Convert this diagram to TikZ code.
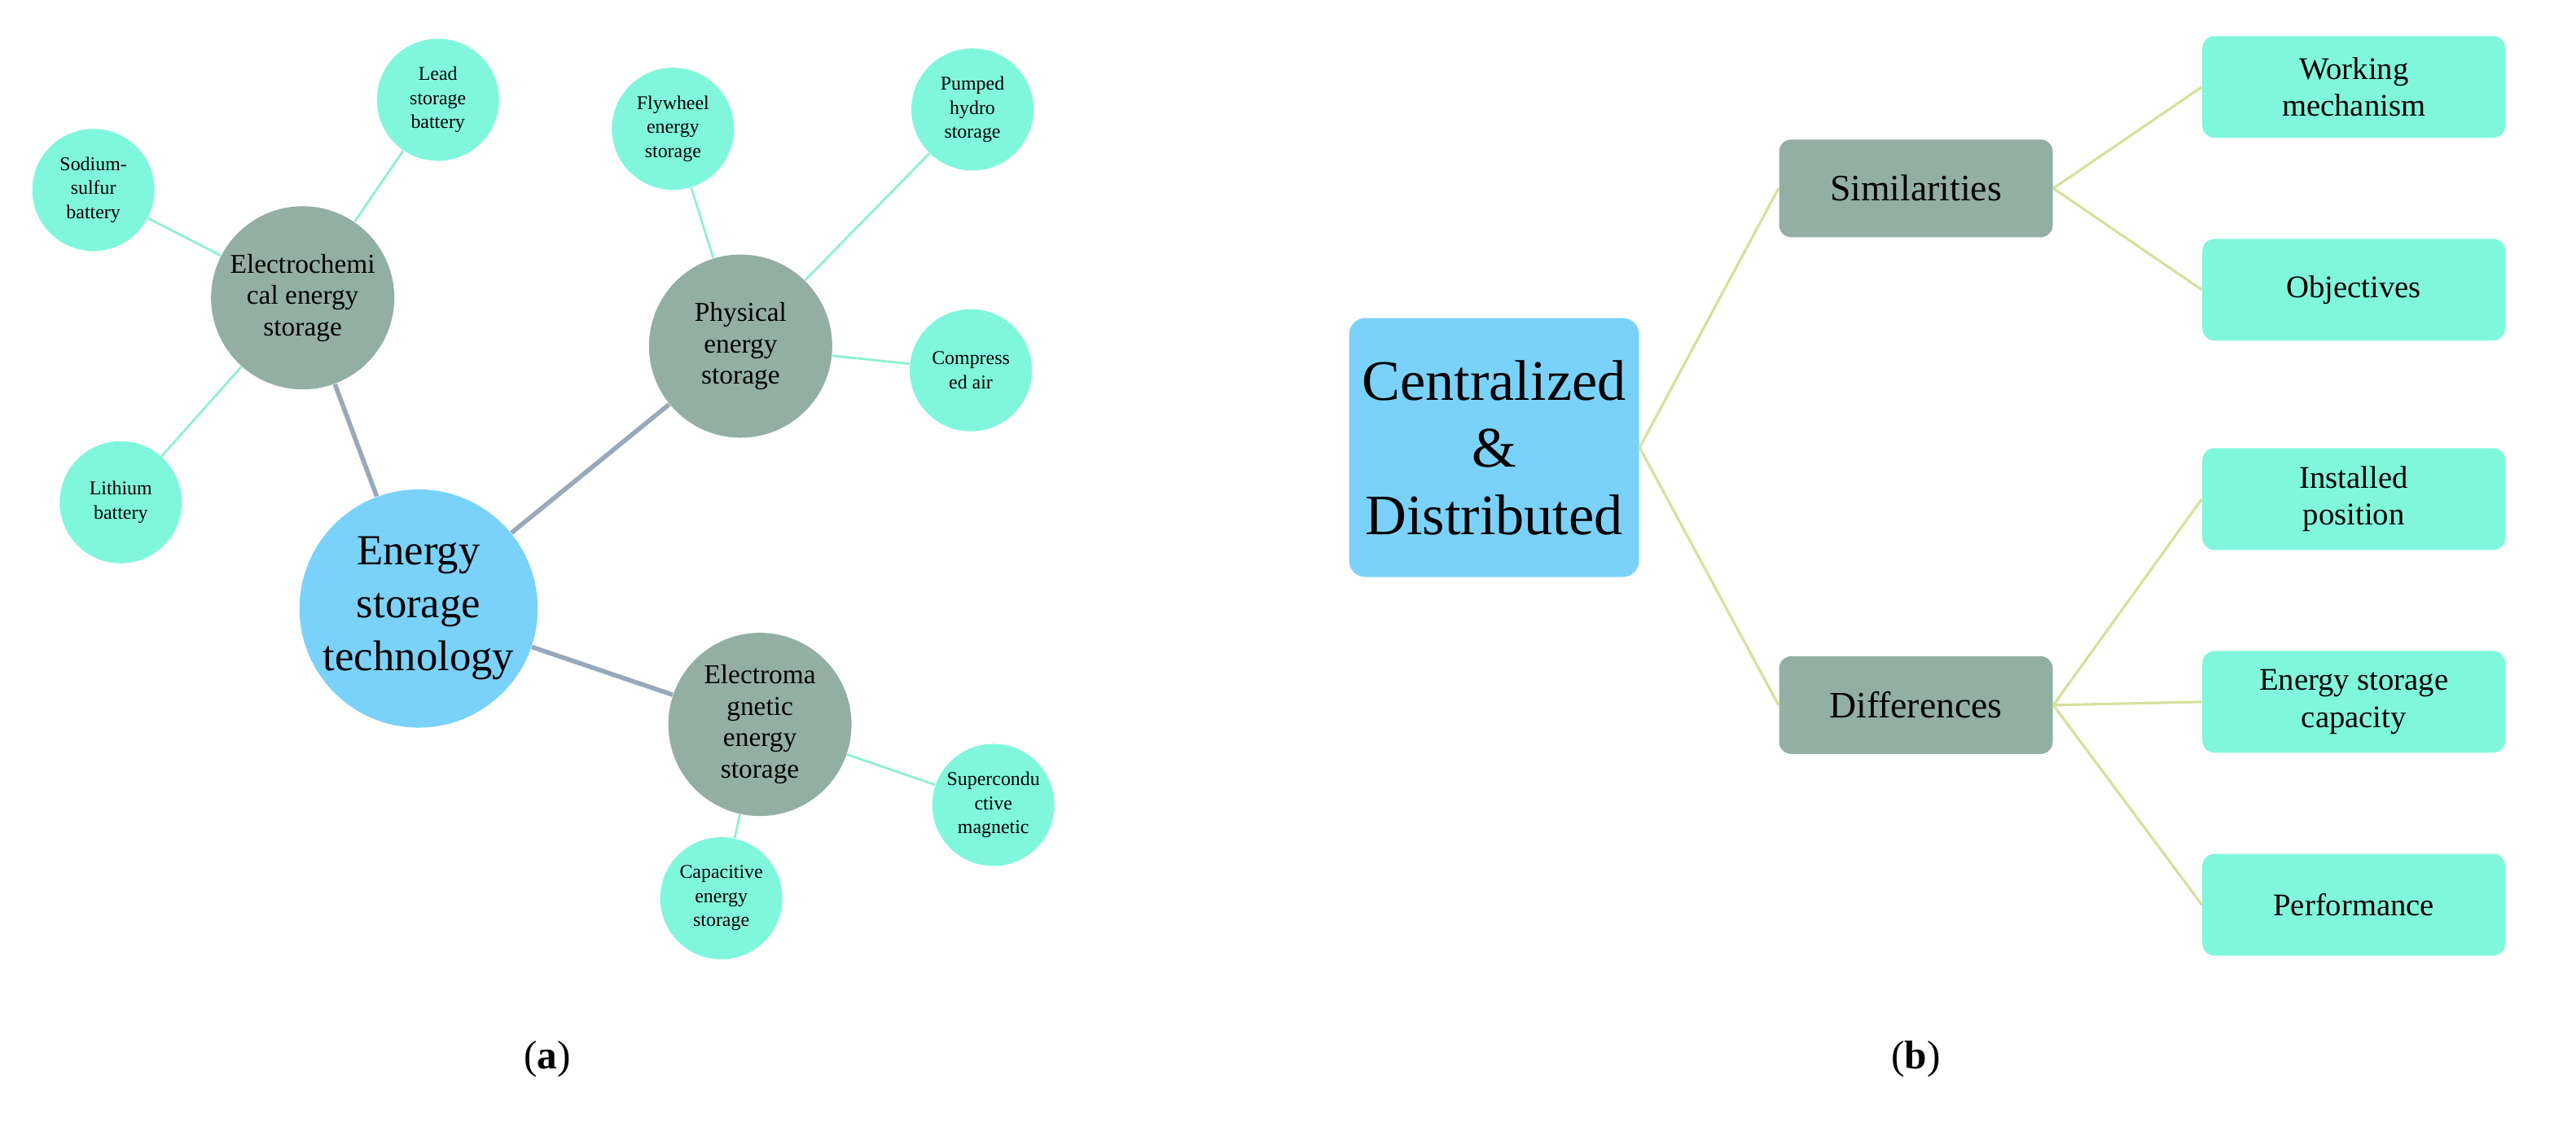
\documentclass[tikz,border=0pt]{standalone}
\usepackage{fontspec}
\setmainfont{Liberation Serif}
\usetikzlibrary{positioning}
\definecolor{rootblue}{HTML}{7AD2FB}
\definecolor{midgrey}{HTML}{93AFA4}
\definecolor{leafaqua}{HTML}{80F7DD}
\definecolor{trunkline}{HTML}{97A9BB}
\definecolor{twigline}{HTML}{8FF0D0}
\definecolor{treeline}{HTML}{D5E19A}
\tikzset{
  root/.style={circle, fill=rootblue, minimum size=28.5mm, align=center, inner sep=0pt, font=\fontsize{15}{18.5}\selectfont},
  branch/.style={circle, fill=midgrey, minimum size=22.5mm, align=center, inner sep=0pt, font=\fontsize{9.5}{11}\selectfont},
  leaf/.style={circle, fill=leafaqua, minimum size=15mm, align=center, inner sep=0pt, font=\fontsize{6.8}{8.4}\selectfont},
  trunk/.style={draw=trunkline, line width=1.6pt},
  twig/.style={draw=twigline, line width=0.8pt},
  hub/.style={rectangle, rounded corners=2mm, fill=rootblue, minimum width=35.6mm, minimum height=31.8mm, align=center, font=\fontsize{20}{23.5}\selectfont},
  group/.style={rectangle, rounded corners=1.5mm, fill=midgrey, minimum width=33.6mm, minimum height=12mm, align=center, font=\fontsize{13}{15}\selectfont},
  item/.style={rectangle, rounded corners=1.5mm, fill=leafaqua, minimum width=37.2mm, minimum height=12.5mm, align=center, font=\fontsize{11}{13}\selectfont},
  link/.style={draw=treeline, line width=0.9pt},
  caption/.style={font=\fontsize{14}{16}\selectfont}
}
\begin{document}
\begin{tikzpicture}[x=0.1977mm, y=-0.1977mm]
  \useasboundingbox (0,0) rectangle (1600,700);
  % (a)
  \node[root]   (EST)  at (260,378) {Energy\\storage\\technology};
  \node[branch] (ECH)  at (188,185) {Electrochemi\\cal energy\\storage};
  \node[branch] (PHY)  at (460,215) {Physical\\energy\\storage};
  \node[branch] (EMG)  at (472,450) {Electroma\\gnetic\\energy\\storage};
  \node[leaf]   (LEAD) at (272,62)  {Lead\\storage\\battery};
  \node[leaf]   (NAS)  at (58,118)  {Sodium-\\sulfur\\battery};
  \node[leaf]   (LI)   at (75,312)  {Lithium\\battery};
  \node[leaf]   (FLY)  at (418,80)  {Flywheel\\energy\\storage};
  \node[leaf]   (PUMP) at (604,68)  {Pumped\\hydro\\storage};
  \node[leaf]   (AIR)  at (603,230) {Compress\\ed air};
  \node[leaf]   (SMES) at (617,500) {Supercondu\\ctive\\magnetic};
  \node[leaf]   (CAP)  at (448,558) {Capacitive\\energy\\storage};
  \draw[trunk] (EST) -- (ECH);
  \draw[trunk] (EST) -- (PHY);
  \draw[trunk] (EST) -- (EMG);
  \draw[twig] (ECH) -- (LEAD);
  \draw[twig] (ECH) -- (NAS);
  \draw[twig] (ECH) -- (LI);
  \draw[twig] (PHY) -- (FLY);
  \draw[twig] (PHY) -- (PUMP);
  \draw[twig] (PHY) -- (AIR);
  \draw[twig] (EMG) -- (SMES);
  \draw[twig] (EMG) -- (CAP);
  \node[caption] (capa) at (340,658) {(\textbf{a})};
  % (b)
  \node[hub]   (CD)   at (928,278)  {Centralized\\\&\\Distributed};
  \node[group] (SIM)  at (1190,117) {Similarities};
  \node[group] (DIF)  at (1190,438) {Differences};
  \node[item]  (WORK) at (1462,54)  {Working\\mechanism};
  \node[item]  (OBJ)  at (1462,180) {Objectives};
  \node[item]  (POS)  at (1462,310) {Installed\\position};
  \node[item]  (CAPY) at (1462,436) {Energy storage\\capacity};
  \node[item]  (PERF) at (1462,562) {Performance};
  \draw[link] (CD.east) -- (SIM.west);
  \draw[link] (CD.east) -- (DIF.west);
  \foreach \t in {WORK,OBJ} \draw[link] (SIM.east) -- (\t.west);
  \foreach \t in {POS,CAPY,PERF} \draw[link] (DIF.east) -- (\t.west);
  \node[caption] (capb) at (1190,658) {(\textbf{b})};
\end{tikzpicture}
\end{document}
